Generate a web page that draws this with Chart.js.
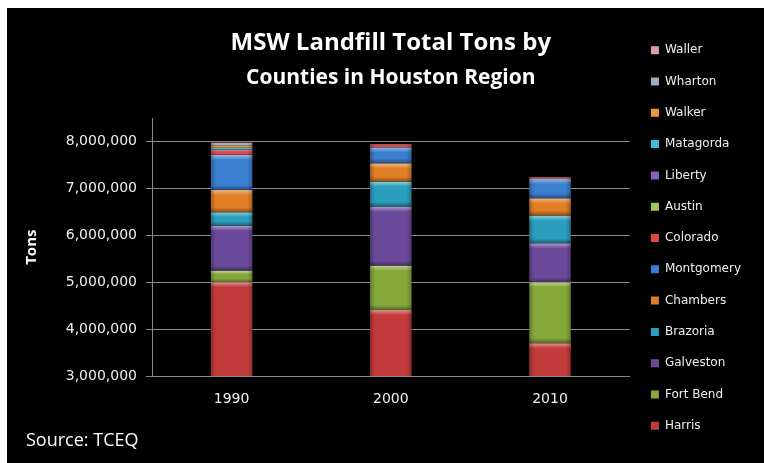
<!DOCTYPE html>
<html>
<head>
<meta charset="utf-8">
<title>MSW Landfill Total Tons</title>
<script src="https://cdn.jsdelivr.net/npm/chart.js@4/dist/chart.umd.min.js"></script>
<style>
    html, body { margin: 0; padding: 0; background: #fff; }
    #frame { position: absolute; left: 7px; top: 8px; width: 757px; height: 455px; background: #000; }
    #source { position: absolute; left: 19px; top: 422px; color: #fff; font: 18px/18px 'Open Sans', sans-serif; }
</style>
</head>
<body>
<div id="frame">
    <canvas id="tonsChart" width="757" height="455"></canvas>
    <div id="source">Source: TCEQ</div>
</div>
<script>
// Tons landfilled per county, stacked bottom (Harris) to top (Waller)
const years = ['1990', '2000', '2010'];
const harris = [5000000, 4408000, 3698000];
const fortBend = [247000, 946000, 1302000];
const galveston = [960000, 1259000, 832000];
const brazoria = [286000, 533000, 589000];
const chambers = [476000, 393000, 371000];
const montgomery = [750000, 341000, 412000];
const colorado = [100000, 65000, 36000];
const austin = [5000, 0, 0];
const liberty = [5000, 0, 0];
const matagorda = [45000, 0, 0];
const walker = [45000, 0, 0];
const wharton = [35000, 0, 0];
const waller = [25000, 0, 0];

const yTicks = [3000000, 4000000, 5000000, 6000000, 7000000, 8000000];

const series = [
    { label: 'Harris', data: harris, color: '#C23B3B' },
    { label: 'Fort Bend', data: fortBend, color: '#86A83A' },
    { label: 'Galveston', data: galveston, color: '#6C4A9B' },
    { label: 'Brazoria', data: brazoria, color: '#2A9FBD' },
    { label: 'Chambers', data: chambers, color: '#E07F26' },
    { label: 'Montgomery', data: montgomery, color: '#3A7FCF' },
    { label: 'Colorado', data: colorado, color: '#E04646' },
    { label: 'Austin', data: austin, color: '#A2C84C' },
    { label: 'Liberty', data: liberty, color: '#8A62C4' },
    { label: 'Matagorda', data: matagorda, color: '#3CC2E0' },
    { label: 'Walker', data: walker, color: '#F5953A' },
    { label: 'Wharton', data: wharton, color: '#9FAFC4' },
    { label: 'Waller', data: waller, color: '#D8A0A4' }
];

const gridGrey = '#8a8a8a';

// Soft bevel on each bar segment: light top edge, darker sides and bottom
const bevel = {
    id: 'bevel',
    afterDatasetsDraw(chart) {
        const { ctx, chartArea } = chart;
        ctx.save();
        ctx.beginPath();
        ctx.rect(chartArea.left, chartArea.top, chartArea.right - chartArea.left, chartArea.bottom - chartArea.top);
        ctx.clip();
        chart.data.datasets.forEach((ds, i) => {
            chart.getDatasetMeta(i).data.forEach(bar => {
                const top = Math.min(bar.y, bar.base);
                const bottom = Math.max(bar.y, bar.base);
                const h = bottom - top;
                if (h < 1) return;
                const left = bar.x - bar.width / 2;
                const w = bar.width;
                const e = Math.min(5, h / 3);

                let g = ctx.createLinearGradient(0, top, 0, top + e);
                g.addColorStop(0, 'rgba(255,255,255,0.45)');
                g.addColorStop(1, 'rgba(255,255,255,0)');
                ctx.fillStyle = g;
                ctx.fillRect(left, top, w, e);

                g = ctx.createLinearGradient(0, bottom - e, 0, bottom);
                g.addColorStop(0, 'rgba(0,0,0,0)');
                g.addColorStop(1, 'rgba(0,0,0,0.4)');
                ctx.fillStyle = g;
                ctx.fillRect(left, bottom - e, w, e);

                g = ctx.createLinearGradient(left, 0, left + w, 0);
                g.addColorStop(0, 'rgba(0,0,0,0.25)');
                g.addColorStop(0.12, 'rgba(0,0,0,0)');
                g.addColorStop(0.88, 'rgba(0,0,0,0)');
                g.addColorStop(1, 'rgba(0,0,0,0.25)');
                ctx.fillStyle = g;
                ctx.fillRect(left, top, w, h);
            });
        });
        ctx.restore();
    }
};

new Chart(document.getElementById('tonsChart'), {
    type: 'bar',
    data: {
        labels: years,
        datasets: series.map(s => ({
            label: s.label,
            data: s.data,
            backgroundColor: s.color,
            borderWidth: 0,
            barPercentage: 0.26,
            categoryPercentage: 1
        }))
    },
    options: {
        responsive: false,
        animation: false,
        layout: { padding: { top: 5, right: 13 } },
        plugins: {
            title: {
                display: true,
                text: 'MSW Landfill Total Tons by',
                color: '#fff',
                fullSize: false,
                font: { family: 'Open Sans', size: 24, weight: 'bold' },
                padding: { top: 16, bottom: 8 }
            },
            subtitle: {
                display: true,
                text: 'Counties in Houston Region',
                color: '#fff',
                fullSize: false,
                font: { family: 'Open Sans', size: 21, weight: 'bold' },
                padding: { top: 0, bottom: 27.4 }
            },
            legend: {
                position: 'right',
                reverse: true,
                labels: {
                    color: '#eee',
                    boxWidth: 8,
                    boxHeight: 8,
                    padding: 19.3,
                    font: { family: 'DejaVu Sans', size: 12 }
                }
            },
            tooltip: { enabled: false }
        },
        scales: {
            x: {
                stacked: true,
                grid: { display: false, drawTicks: false },
                border: { color: gridGrey },
                afterFit: axis => { axis.height = 87; },
                ticks: { color: '#eee', padding: 15, font: { family: 'DejaVu Sans', size: 14 } }
            },
            y: {
                stacked: true,
                min: 3000000,
                max: 8500000,
                afterBuildTicks: axis => { axis.ticks = yTicks.map(v => ({ value: v })); },
                afterFit: axis => { axis.width = 145; },
                grid: { color: gridGrey, tickLength: 6 },
                border: { color: gridGrey },
                ticks: {
                    color: '#eee',
                    padding: 9,
                    font: { family: 'DejaVu Sans', size: 14 },
                    callback: v => v.toLocaleString('en-US')
                },
                title: {
                    display: true,
                    text: 'Tons',
                    color: '#fff',
                    font: { family: 'Open Sans', size: 15, weight: 'bold' },
                    padding: { top: 16 }
                }
            },
            gap: {
                position: 'right',
                display: true,
                grid: { display: false },
                border: { display: false },
                ticks: { display: false },
                afterFit: axis => { axis.width = 2; }
            }
        }
    },
    plugins: [bevel]
});
</script>
</body>
</html>
